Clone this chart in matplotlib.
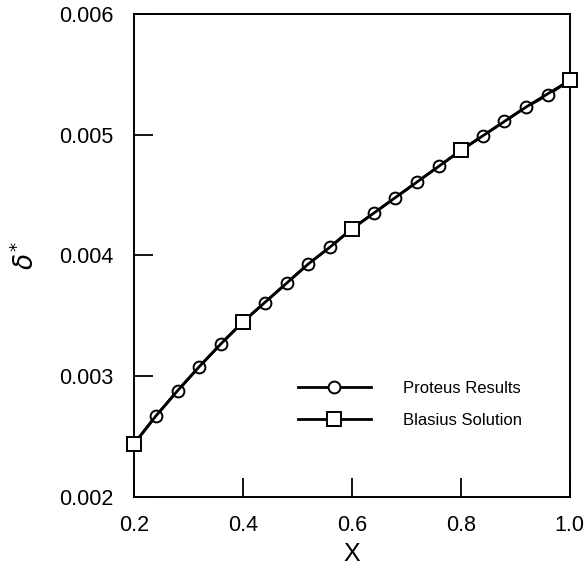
import numpy as np
import matplotlib.pyplot as plt

plt.rcParams['font.family'] = ['Liberation Sans', 'DejaVu Sans']
plt.rcParams['mathtext.fontset'] = 'dejavusans'

# Proteus results (every 0.04 in x)
x_proteus = [0.20, 0.24, 0.28, 0.32, 0.36, 0.40, 0.44, 0.48, 0.52, 0.56, 0.60,
             0.64, 0.68, 0.72, 0.76, 0.80, 0.84, 0.88, 0.92, 0.96, 1.00]
d_proteus = [0.00244, 0.00267, 0.00288, 0.00308, 0.00327, 0.00345, 0.00361,
             0.00377, 0.00393, 0.00407, 0.00422, 0.00435, 0.00448, 0.00461,
             0.00474, 0.00487, 0.00499, 0.00511, 0.00523, 0.00533, 0.00545]

# Blasius solution (curve overlaps Proteus; symbols every 0.2)
x_blasius = [0.20, 0.24, 0.28, 0.32, 0.36, 0.40, 0.44, 0.48, 0.52, 0.56, 0.60,
             0.64, 0.68, 0.72, 0.76, 0.80, 0.84, 0.88, 0.92, 0.96, 1.00]
d_blasius = [0.00244, 0.00267, 0.00288, 0.00308, 0.00327, 0.00345, 0.00361,
             0.00377, 0.00393, 0.00407, 0.00422, 0.00435, 0.00448, 0.00461,
             0.00474, 0.00487, 0.00499, 0.00511, 0.00523, 0.00534, 0.00545]

xticks = [0.2, 0.4, 0.6, 0.8, 1.0]
xticklabels = ['0.2', '0.4', '0.6', '0.8', '1.0']
yticks = [0.002, 0.003, 0.004, 0.005, 0.006]
yticklabels = ['0.002', '0.003', '0.004', '0.005', '0.006']

fig = plt.figure(figsize=(5.85, 5.69), dpi=100)
ax = fig.add_axes([0.229, 0.1265, 0.745, 0.849])

ax.plot(x_proteus, d_proteus, '-', color='black', lw=2.0, marker='o',
        ms=8.5, mfc='white', mec='black', mew=1.4, label='Proteus Results',
        clip_on=False, zorder=3)
ax.plot(x_blasius, d_blasius, '-', color='black', lw=2.0, marker='s',
        ms=9.5, mfc='white', mec='black', mew=1.4, label='Blasius Solution',
        markevery=5, clip_on=False, zorder=4)

ax.set_xlim(0.2, 1.0)
ax.set_ylim(0.002, 0.006)
ax.set_xticks(xticks)
ax.set_xticklabels(xticklabels)
ax.set_yticks(yticks)
ax.set_yticklabels(yticklabels)
ax.tick_params(direction='in', length=14, width=1.3, labelsize=15.5,
               top=False, right=False)
ax.tick_params(axis='y', pad=15)
ax.tick_params(axis='x', pad=13)
for s in ax.spines.values():
    s.set_linewidth(1.4)

ax.set_xlabel('X', fontsize=18, labelpad=4)
ax.set_ylabel(r'$\delta^{*}$', fontsize=19, labelpad=14)

leg = ax.legend(loc='upper left', bbox_to_anchor=(0.36, 0.255), frameon=False,
                fontsize=12, handlelength=4.4, handletextpad=1.9,
                labelspacing=1.05, borderaxespad=0)

fig.savefig('out.png', dpi=100)
